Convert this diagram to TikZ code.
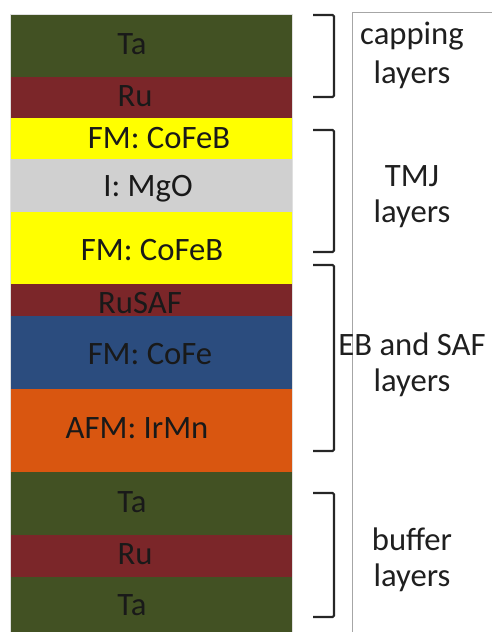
\documentclass[tikz,border=0pt]{standalone}
\usepackage{fontspec}
\setmainfont{Carlito}
\usetikzlibrary{positioning}

\definecolor{taGreen}{RGB}{66,81,35}
\definecolor{ruRed}{RGB}{123,38,41}
\definecolor{fmYellow}{RGB}{255,255,0}
\definecolor{mgoGray}{RGB}{208,208,208}
\definecolor{cofeBlue}{RGB}{43,76,126}
\definecolor{afmOrange}{RGB}{217,86,16}

\begin{document}
\begin{tikzpicture}[
    x=0.75pt, y=-0.75pt,
    ltext/.style={font=\fontsize{24.5}{28}\selectfont, text=black!90, inner sep=0pt},
    grp/.style={font=\fontsize{24.5}{28}\selectfont, text=black!88, align=center, inner sep=0pt},
    brk/.style={line width=1.6pt, black!85, rounded corners=1pt},
    frame/.style={black!35, line width=0.5pt},
]
\useasboundingbox (0,0) rectangle (492,632);

% ── Layer stack ──
\fill[taGreen]   (11,15)  rectangle (292,77);
\node[ltext] (capTa) at (132,44) {Ta};
\fill[ruRed]     (11,77)  rectangle (292,118);
\node[ltext] (capRu) at (135,96) {Ru};
\fill[fmYellow]  (11,118) rectangle (292,159);
\node[ltext] (topFM) at (159,138) {FM: CoFeB};
\fill[mgoGray]   (11,159) rectangle (292,212);
\node[ltext] (barrier) at (148,189) {I: MgO};
\fill[fmYellow]  (11,212) rectangle (292,284);
\node[ltext] (botFM) at (152,250) {FM: CoFeB};
\fill[ruRed]     (11,284) rectangle (292,316);
\node[ltext] (rusaf) at (140,303) {RuSAF};
\fill[cofeBlue]  (11,316) rectangle (292,389);
\node[ltext] (pinned) at (150,354) {FM: CoFe};
\fill[afmOrange] (11,389) rectangle (292,472);
\node[ltext] (afm) at (137,428) {AFM: IrMn};
\fill[taGreen]   (11,472) rectangle (292,535);
\node[ltext] (bufTa) at (132,502) {Ta};
\fill[ruRed]     (11,535) rectangle (292,577);
\node[ltext] (bufRu) at (135,554) {Ru};
\fill[taGreen]   (11,577) rectangle (292,632);
\node[ltext] (seedTa) at (132,605) {Ta};
\draw[black!12, line width=0.6pt] (10.5,632) |- (292.5,14.5) -- (292.5,632);

% ── Label frame ──
\draw[frame] (352,632) -- (352,12) -- (492,12);

% ── Brackets ──
\draw[brk] (313,15)  -- (334,15)  -- (334,97)  -- (313,97);
\draw[brk] (313,130) -- (334,130) -- (334,252) -- (313,252);
\draw[brk] (313,265) -- (334,265) -- (334,451) -- (313,451);
\draw[brk] (313,493) -- (334,493) -- (334,617) -- (313,617);

% ── Group labels ──
\node[grp] (capping) at (412,36)  {capping};
\node[grp] (cappingB) at (412,75) {layers};
\node[grp] (tmj) at (412,176) {TMJ};
\node[grp] (tmjB) at (412,214) {layers};
\node[grp] (ebsaf) at (412,344) {EB and SAF};
\node[grp] (ebsafB) at (412,383) {layers};
\node[grp] (buffer) at (412,539) {buffer};
\node[grp] (bufferB) at (412,578) {layers};

\end{tikzpicture}
\end{document}
